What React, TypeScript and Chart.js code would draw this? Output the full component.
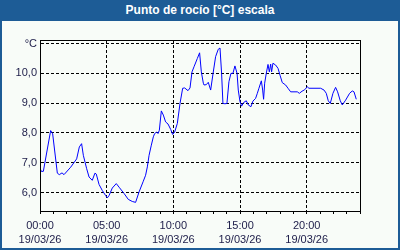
import React, { useEffect, useRef } from "react";
import { Chart, registerables } from "chart.js";

Chart.register(...registerables);

const TITLE = "Punto de rocío [°C] escala";
const DATE_LABEL = "19/03/26";

// hours since 00:00 of 19/03/26
const hours = [
  0.0, 0.1, 0.25, 0.8, 0.95, 1.3, 1.45, 1.65, 1.8, 2.3, 2.75, 2.95, 3.12, 3.25, 3.5, 3.68, 3.92,
  4.12, 4.22, 4.43, 4.67, 4.92, 5.05, 5.18, 5.42, 5.72, 5.93, 6.3, 6.62, 6.92, 7.17, 7.43, 7.73,
  7.92, 8.05, 8.18, 8.35, 8.5, 8.6, 8.75, 8.85, 8.95, 9.1, 9.25, 9.42, 9.6, 9.8, 9.95, 10.1, 10.3,
  10.5, 10.7, 10.85, 11.1, 11.25, 11.4, 11.55, 11.8, 11.97, 12.1, 12.25, 12.3, 12.47, 12.62, 12.8,
  12.98, 13.17, 13.37, 13.5, 13.62, 13.72, 13.87, 14.02, 14.17, 14.32, 14.47, 14.62, 14.78, 14.87,
  15.0, 15.12, 15.27, 15.47, 15.62, 15.82, 15.97, 16.17, 16.3, 16.42, 16.6, 16.7, 16.77, 16.85,
  16.97, 17.1, 17.2, 17.3, 17.37, 17.47, 17.67, 17.85, 18.0, 18.17, 18.42, 18.6, 18.8, 19.05, 19.3,
  19.45, 19.65, 19.85, 20.05, 20.17, 21.05, 21.3, 21.47, 21.62, 21.77, 21.97, 22.17, 22.32, 22.52,
  22.67, 22.92, 23.22, 23.42, 23.55, 23.72,
];

const dewPoint = [
  6.82, 6.71, 6.71, 8.08, 7.97, 6.65, 6.6, 6.66, 6.6, 6.85, 7.13, 7.53, 7.64, 7.25, 6.8, 6.52, 6.41,
  6.65, 6.62, 6.27, 6.07, 5.9, 5.82, 5.9, 6.15, 6.3, 6.18, 5.97, 5.77, 5.7, 5.67, 6.02, 6.36,
  6.58, 6.86, 7.25, 7.59, 7.87, 7.98, 8.03, 7.98, 8.09, 8.74, 8.6, 8.37, 8.3, 8.12, 7.95, 8.03, 8.32,
  8.99, 9.5, 9.51, 9.42, 9.51, 10.05, 10.22, 10.5, 10.69, 10.05, 9.67, 9.61, 9.62, 9.7, 9.44,
  10.0, 10.56, 10.81, 10.85, 10.0, 8.99, 8.98, 8.99, 9.72, 10.0, 10.0, 10.25, 10.0, 9.44,
  9.05, 8.9, 9.02, 9.08, 8.94, 8.88, 9.07, 9.16, 9.33, 9.5, 9.75, 9.44, 9.13, 9.67,
  10.0, 10.3, 10.05, 10.31, 10.05, 10.34, 10.28, 10.17, 9.94, 9.69, 9.61, 9.5, 9.38, 9.38, 9.38,
  9.33, 9.4, 9.45, 9.55, 9.5, 9.5, 9.44, 9.33, 9.08, 8.99, 9.33, 9.53, 9.38, 9.08,
  8.94, 9.1, 9.33, 9.41, 9.38, 9.13,
];

const yTicks = [6, 7, 8, 9, 10, 11];
const yTopLabel = "°C";
const xTickHours = Array.from({ length: 25 }, (_, i) => i);
const xLabelEvery = 5;

const FRAME_BLUE = "#1d5c96";
const TEXT = "#1c1c48";
const FONT = "'Liberation Sans', Arial, sans-serif";

const borderPlugin = {
  id: "plotBorder",
  afterDraw(chart: any) {
    const { ctx, chartArea } = chart;
    ctx.save();
    ctx.setLineDash([]);
    ctx.strokeStyle = "#000";
    ctx.lineWidth = 1;
    ctx.strokeRect(
      Math.round(chartArea.left) + 0.5,
      Math.round(chartArea.top) + 0.5,
      Math.round(chartArea.right - chartArea.left),
      Math.round(chartArea.bottom - chartArea.top)
    );
    ctx.restore();
  },
};

export default function App() {
  const ref = useRef<HTMLCanvasElement>(null);

  useEffect(() => {
    document.body.style.margin = "0";
    const canvas = ref.current!;
    const chart = new Chart(canvas, {
      type: "line",
      data: {
        datasets: [
          {
            data: hours.map((h, i) => ({ x: h, y: dewPoint[i] })),
            borderColor: "#0000ff",
            borderWidth: 1,
            pointRadius: 0,
            tension: 0,
            fill: false,
          },
        ],
      },
      options: {
        animation: false,
        responsive: false,
        maintainAspectRatio: false,
        layout: { padding: { left: 0, top: 40, right: 40, bottom: 0 } },
        plugins: { legend: { display: false }, tooltip: { enabled: false }, title: { display: false } },
        scales: {
          x: {
            type: "linear",
            min: 0,
            max: 24,
            afterBuildTicks: (s: any) => {
              s.ticks = xTickHours.map((v) => ({ value: v }));
            },
            afterFit: (s: any) => {
              s.height = 39;
            },
            border: { display: true, color: "#000", width: 1, dash: [3, 2] },
            grid: {
              drawTicks: true,
              tickLength: 3,
              color: (c: any) => (c.tick && c.tick.value % xLabelEvery === 0 ? "#000" : "rgba(0,0,0,0)"),
              tickColor: "#000",
              tickBorderDash: [],
              lineWidth: 1,
            },
            ticks: {
              autoSkip: false,
              maxRotation: 0,
              padding: 5,
              color: TEXT,
              font: { family: FONT, size: 11, lineHeight: 1.3 },
              callback: (v: any) => {
                const n = Number(v);
                if (n % xLabelEvery !== 0 || n >= 24) return "";
                return [String(n).padStart(2, "0") + ":00", DATE_LABEL];
              },
            },
          },
          y: {
            min: 5.38,
            max: 11.12,
            afterBuildTicks: (s: any) => {
              s.ticks = yTicks.map((v) => ({ value: v }));
            },
            afterFit: (s: any) => {
              s.width = 40;
            },
            border: { display: true, color: "#000", width: 1, dash: [3, 2] },
            grid: {
              drawTicks: false,
              color: "#000",
              lineWidth: 1,
            },
            ticks: {
              padding: 3,
              color: TEXT,
              font: { family: FONT, size: 11 },
              callback: (v: any) => {
                const n = Number(v);
                if (n === 11) return yTopLabel;
                return n.toFixed(1).replace(".", ",");
              },
            },
          },
        },
      },
      plugins: [borderPlugin],
    });
    return () => chart.destroy();
  }, []);

  return (
    <div
      style={{
        position: "relative",
        width: 400,
        height: 250,
        boxSizing: "border-box",
        border: `2px solid ${FRAME_BLUE}`,
        borderTop: "none",
        background: "#f8fcf8",
        overflow: "hidden",
      }}
    >
      <div
        style={{
          position: "absolute",
          left: -2,
          top: 0,
          width: 400,
          height: 21,
          background: FRAME_BLUE,
          color: "#fff",
          fontFamily: FONT,
          fontWeight: "bold",
          fontSize: 12,
          lineHeight: "21px",
          textAlign: "center",
        }}
      >
        {TITLE}
      </div>
      <canvas
        ref={ref}
        width={400}
        height={250}
        style={{ position: "absolute", left: -2, top: 0, width: 400, height: 250 }}
      />
    </div>
  );
}
